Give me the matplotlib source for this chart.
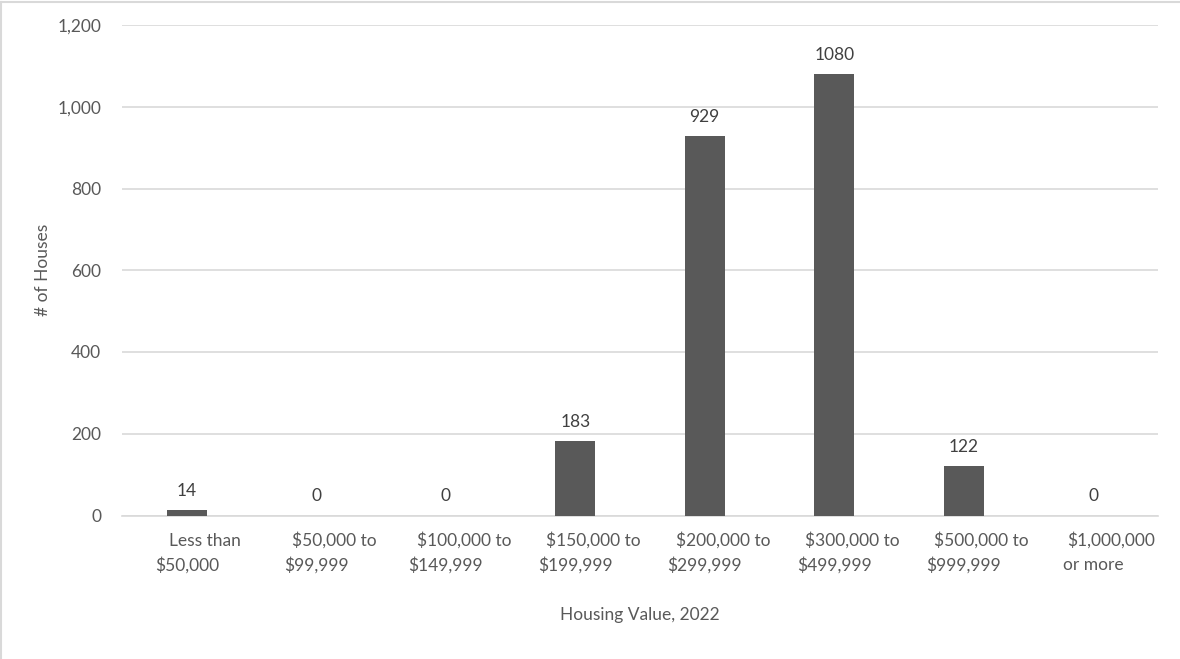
import matplotlib
matplotlib.use("Agg")
import matplotlib.pyplot as plt
from matplotlib.lines import Line2D
import numpy as np

# Housing value distribution, 2022
line1 = ["Less than", "$50,000 to", "$100,000 to", "$150,000 to",
         "$200,000 to", "$300,000 to", "$500,000 to", "$1,000,000"]
line2 = ["$50,000", "$99,999", "$149,999", "$199,999",
         "$299,999", "$499,999", "$999,999", "or more"]
houses = [14, 0, 0, 183, 929, 1080, 122, 0]
yticks = [0, 200, 400, 600, 800, 1000, 1200]

plt.rcParams["font.family"] = ["Lato", "DejaVu Sans"]
TXT = "#595959"
BAR = "#595959"
FS = 12.5

fig = plt.figure(figsize=(11.8, 6.59), dpi=100)
ax = fig.add_axes([122 / 1180, 1 - 515.5 / 659, 1036 / 1180, 490.5 / 659])

x = np.arange(len(houses))
bars = ax.bar(x, houses, width=0.31, color=BAR, zorder=3)

ax.set_xlim(-0.5, len(houses) - 0.5)
ax.set_ylim(0, 1200)
ax.set_yticks(yticks)
ax.set_yticklabels([f"{v:,}" for v in yticks], fontsize=FS, color=TXT)
ax.tick_params(axis="y", length=0, pad=15)
ax.set_xticks([])

ax.grid(axis="y", color="#d9d9d9", linewidth=1.2, zorder=0)
for s in ["top", "right", "left"]:
    ax.spines[s].set_visible(False)
ax.spines["bottom"].set_color("#d9d9d9")
ax.spines["bottom"].set_linewidth(1.2)

# value labels above bars
for xi, v in zip(x, houses):
    ax.annotate(f"{v}", xy=(xi, v), xytext=(0, 8), textcoords="offset points",
                ha="center", va="bottom", fontsize=FS, color="#404040")

# two-line category labels
for xi, a, b in zip(x, line1, line2):
    ax.annotate(a, xy=(xi, 0), xycoords=("data", "axes fraction"),
                xytext=(13, -18), textcoords="offset points",
                ha="center", va="center", fontsize=FS, color=TXT)
    ax.annotate(b, xy=(xi, 0), xycoords=("data", "axes fraction"),
                xytext=(0, -35.5), textcoords="offset points",
                ha="center", va="center", fontsize=FS, color=TXT)

fig.text(640 / 1180, 1 - 615 / 659, "Housing Value, 2022", ha="center",
         va="center", fontsize=FS, color=TXT)
fig.text(42.5 / 1180, 1 - 270 / 659, "# of Houses", ha="center", va="center",
         rotation=90, fontsize=FS, color=TXT)

# chart frame edges
fig.add_artist(Line2D([0.5 / 1180, 0.5 / 1180], [0, 1 - 1.5 / 659],
                      transform=fig.transFigure, color="#d9d9d9", linewidth=1.5))
fig.add_artist(Line2D([0, 1], [1 - 1.5 / 659, 1 - 1.5 / 659],
                      transform=fig.transFigure, color="#d9d9d9", linewidth=1.5))

fig.savefig("out.png", dpi=100, facecolor="white")
